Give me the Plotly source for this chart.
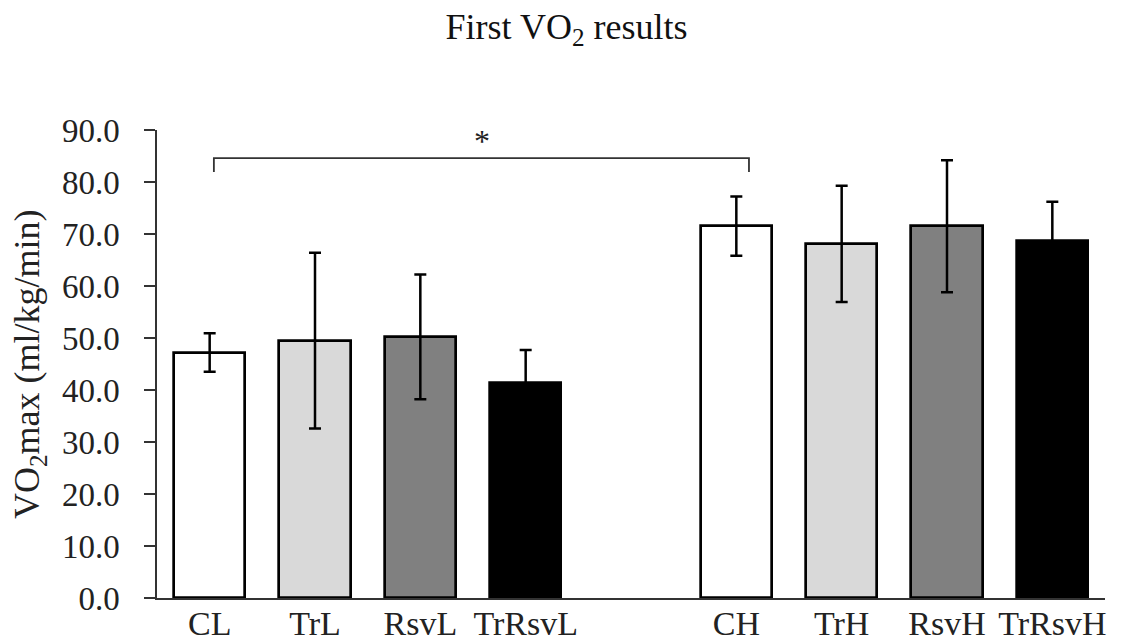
import plotly.graph_objects as go

categories = ["CL", "TrL", "RsvL", "TrRsvL", "CH", "TrH", "RsvH", "TrRsvH"]
values = [47.2, 49.5, 50.2, 41.4, 71.5, 68.1, 71.5, 68.6]
errors = [3.7, 16.9, 12.0, 6.3, 5.7, 11.2, 12.7, 7.6]
fills = ["#ffffff", "#d9d9d9", "#808080", "#000000",
         "#ffffff", "#d9d9d9", "#808080", "#000000"]
y_ticks = [0, 10, 20, 30, 40, 50, 60, 70, 80, 90]

# two groups of four with one empty slot between them
group_size = 4
positions = [i + (i // group_size) for i in range(len(categories))]

# significance bracket between CL and CH
bracket_x = [0.04, 5.12]
bracket_y_top = 84.6
bracket_y_end = 81.9
star_pos = (2.59, 87.9)

FONT = "Liberation Serif"

fig = go.Figure()
fig.add_trace(go.Bar(
    x=positions, y=values, width=0.675,
    marker=dict(color=fills, line=dict(color="black", width=2.7)),
    error_y=dict(type="data", array=errors, visible=True,
                 color="black", thickness=2.5, width=6),
    showlegend=False,
))

fig.add_shape(type="path",
              path=f"M {bracket_x[0]},{bracket_y_end} L {bracket_x[0]},{bracket_y_top} "
                   f"L {bracket_x[1]},{bracket_y_top} L {bracket_x[1]},{bracket_y_end}",
              xref="x", yref="y", line=dict(color="#333333", width=1.8))

fig.add_annotation(x=star_pos[0], y=star_pos[1], xref="x", yref="y",
                   text="*", showarrow=False, yanchor="middle",
                   font=dict(family=FONT, size=32, color="#222"))

fig.add_annotation(x=0, y=0.5, xref="paper", yref="paper",
                   text="VO<sub>2</sub>max (ml/kg/min)", textangle=-90,
                   showarrow=False, xanchor="center", yanchor="middle",
                   xshift=-128,
                   font=dict(family=FONT, size=36, color="#222"))

fig.update_layout(
    width=1133, height=642,
    margin=dict(l=157, r=28, t=130, b=44),
    plot_bgcolor="white", paper_bgcolor="white",
    title=dict(text="First VO<sub>2</sub> results", x=0.5, xref="container",
               xanchor="center", y=1 - 26 / 642, yref="container", yanchor="middle",
               font=dict(family=FONT, size=36, color="#111")),
    font=dict(family=FONT, color="#222"),
    bargap=0,
)

fig.update_xaxes(range=[-0.5, 8.5], tickvals=positions, ticktext=categories,
                 showline=True, linecolor="#333", linewidth=1.5,
                 ticks="", showgrid=False, zeroline=False, automargin=False,
                 ticklabelstandoff=-6,
                 tickfont=dict(family=FONT, size=34, color="#222"))
fig.update_yaxes(range=[0, 90], tickvals=y_ticks, tickformat=".1f",
                 showline=True, linecolor="#333", linewidth=1.5,
                 ticks="outside", ticklen=11, tickcolor="#333", tickwidth=1.5,
                 showgrid=False, zeroline=False, ticklabelstandoff=18, automargin=False,
                 tickfont=dict(family=FONT, size=33, color="#222"))

fig.write_html("out.html")
